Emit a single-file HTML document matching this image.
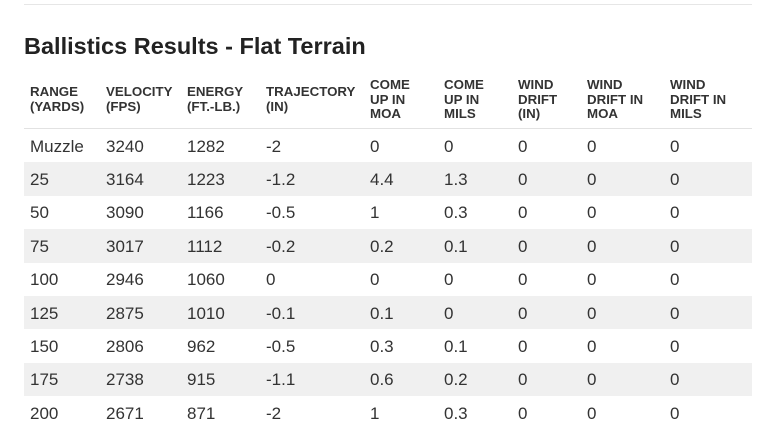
<!DOCTYPE html>
<html><head><style>
body{margin:0;width:770px;height:430px;background:#fff;overflow:hidden;font-family:"Liberation Sans",Arial,sans-serif;color:#333;position:relative}
.top{position:absolute;left:24px;top:4px;width:728px;height:1px;background:#e6e6e6}
h1{position:absolute;left:24px;top:32px;margin:0;font-size:23.5px;font-weight:bold;color:#222;line-height:28px}
.hdr div{position:absolute;top:78px;font-size:13.3px;font-weight:bold;line-height:14.5px;color:#333}
.hdr div.t{top:85px}
.hline{position:absolute;left:24px;top:128px;width:728px;height:1px;background:#e2e2e2}
.row{position:absolute;left:24px;width:728px;height:33.4px}
.row.g{background:#f0f0f0}
.row span{position:absolute;top:7.5px;font-size:17px;line-height:20px;color:#333}
</style></head><body>
<div class="top"></div>
<h1>Ballistics Results - Flat Terrain</h1>
<div class="hdr">
<div class="t" style="left:30px">RANGE<br>(YARDS)</div>
<div class="t" style="left:106px">VELOCITY<br>(FPS)</div>
<div class="t" style="left:187px">ENERGY<br>(FT.-LB.)</div>
<div class="t" style="left:266px">TRAJECTORY<br>(IN)</div>
<div style="left:370px">COME<br>UP IN<br>MOA</div>
<div style="left:444px">COME<br>UP IN<br>MILS</div>
<div style="left:518px">WIND<br>DRIFT<br>(IN)</div>
<div style="left:587px">WIND<br>DRIFT IN<br>MOA</div>
<div style="left:670px">WIND<br>DRIFT IN<br>MILS</div>
</div>
<div class="hline"></div>
<div id="rows"></div>
<script>
var d=[["Muzzle",3240,1282,"-2",0,0],["25",3164,1223,"-1.2",4.4,1.3],["50",3090,1166,"-0.5",1,0.3],["75",3017,1112,"-0.2",0.2,0.1],["100",2946,1060,"0",0,0],["125",2875,1010,"-0.1",0.1,0],["150",2806,962,"-0.5",0.3,0.1],["175",2738,915,"-1.1",0.6,0.2],["200",2671,871,"-2",1,0.3]];
var xs=[30,106,187,266,370,444,518,587,670],h="";
d.forEach(function(r,i){var v=r.concat([0,0,0]);h+='<div class="row'+(i%2?' g':'')+'" style="top:'+(129+i*33.4)+'px">';v.forEach(function(c,j){h+='<span style="left:'+(xs[j]-24)+'px">'+c+'</span>'});h+='</div>'});
document.getElementById('rows').innerHTML=h;
</script>
</body></html>
